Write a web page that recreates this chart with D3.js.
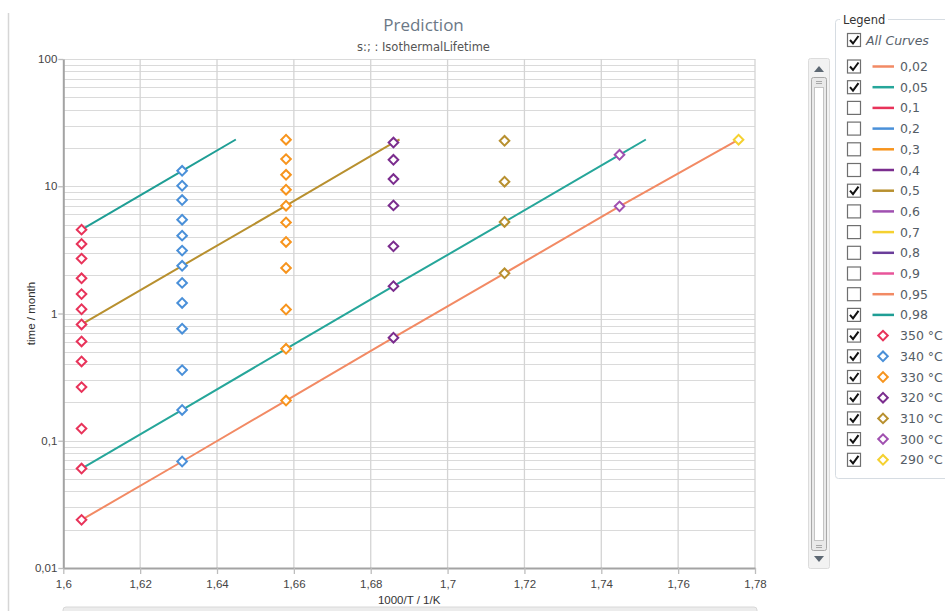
<!DOCTYPE html>
<html>
<head>
<meta charset="utf-8">
<script src="https://cdn.jsdelivr.net/npm/d3@7"></script>
<style>
  html, body { margin: 0; padding: 0; background: #ffffff; }
  svg { display: block; }
</style>
</head>
<body>
<svg id="chart" width="945" height="611"></svg>
<script>
// ---- data ----
const temperatures = [350, 340, 330, 320, 310, 300, 290];          // °C
const quantileLabels = ["0,02", "0,05", "0,1", "0,2", "0,3", "0,4", "0,5",
                        "0,6", "0,7", "0,8", "0,9", "0,95", "0,98"];
const quantileVisible = [true, true, false, false, false, false, true,
                         false, false, false, false, false, true];

// lifetime quantiles (months) per test temperature, in quantile order
const times350 = [0.0239, 0.0605, 0.1246, 0.264, 0.420, 0.603, 0.82, 1.08, 1.42, 1.89, 2.70, 3.52, 4.56];
const times340 = [0.0687, 0.1745, 0.359, 0.759, 1.21, 1.74, 2.37, 3.12, 4.09, 5.46, 7.79, 10.09, 13.23];
const times330 = [0.207, 0.528, 1.075, 2.28, 3.65, 5.20, 7.03, 9.39, 12.31, 16.34, 23.2];
const times320 = [0.645, 1.64, 3.37, 7.07, 11.39, 16.14, 22.05];
const times310 = [2.07, 5.24, 10.85, 22.75];
const times300 = [6.95, 17.66];
const times290 = [23.2];
const timesByTemp = [times350, times340, times330, times320, times310, times300, times290];

// prediction curves: 1000/T end where the curve reaches the time limit
const maxTime = 23.3;
const curve002End = 1.7757;
const curve005End = 1.7516;
const curve05End = 1.6875;
const curve098End = 1.6449;

const xTicks = [1.6, 1.62, 1.64, 1.66, 1.68, 1.7, 1.72, 1.74, 1.76, 1.78];
const yTicks = [0.01, 0.1, 1, 10, 100];
const yTickLabels = ["0,01", "0,1", "1", "10", "100"];

// ---- colours ----
const curveColors = ["#F28A64", "#26A69A", "#E8335A", "#4A90D9", "#F7941D", "#7B2D8E", "#B8902F",
                     "#A050B0", "#F5D130", "#6A3D9A", "#E8559A", "#F28A64", "#1F9E95"];
const tempColors = ["#E8335A", "#4A90D9", "#F7941D", "#7B2D8E", "#B8902F", "#A050B0", "#F5D130"];

const invT = t => 1000 / (t + 273.15);
const fmt = v => String(v).replace(".", ",");

const svg = d3.select("#chart");

const x = d3.scaleLinear().domain([1.6, 1.78]).range([63.3, 755]);
const y = d3.scaleLog().domain([0.01, 100]).range([568, 59]);

// window frame pieces
svg.append("line").attr("x1", 8.5).attr("x2", 8.5).attr("y1", 13).attr("y2", 611)
  .attr("stroke", "#d6d6d6").attr("stroke-width", 1.5);
svg.append("rect").attr("x", 63).attr("y", 607).attr("width", 694).attr("height", 10)
  .attr("rx", 3).attr("fill", "#ececec").attr("stroke", "#d8d8d8");

// title
svg.append("text").attr("x", 423.5).attr("y", 31).attr("text-anchor", "middle")
  .attr("font-family", "'Open Sans', sans-serif").attr("font-size", 17)
  .attr("fill", "#6b7886").text("Prediction");
svg.append("text").attr("x", 423.5).attr("y", 51).attr("text-anchor", "middle")
  .attr("font-family", "'DejaVu Sans', sans-serif").attr("font-size", 11.5)
  .attr("fill", "#555").text("s:; : IsothermalLifetime");

// grid
const grid = svg.append("g");
const minorVals = [];
for (let e = -2; e < 2; e++) for (let m = 1; m <= 9; m++) minorVals.push(m * Math.pow(10, e));
minorVals.push(100);
grid.selectAll("line.h").data(minorVals).join("line")
  .attr("x1", x(1.6)).attr("x2", x(1.78))
  .attr("y1", d => Math.round(y(d)) + 0.5).attr("y2", d => Math.round(y(d)) + 0.5)
  .attr("stroke", "#dadada").attr("stroke-width", 1.2);
grid.selectAll("line.v").data(xTicks.slice(1)).join("line")
  .attr("x1", d => x(d)).attr("x2", d => x(d))
  .attr("y1", y(100)).attr("y2", y(0.01))
  .attr("stroke", "#d4d4d4").attr("stroke-width", 1.3);

// axes
const xAxis = d3.axisBottom(x).tickValues(xTicks).tickSize(6).tickSizeOuter(0)
  .tickFormat(d => fmt(+d.toFixed(2)));
const gx = svg.append("g").attr("transform", `translate(0,${y(0.01)})`).call(xAxis);
gx.select(".domain").attr("stroke", "#a3a3a3").attr("stroke-width", 2);
gx.selectAll(".tick line").attr("stroke", "#bdbdbd").attr("stroke-width", 1.3);
gx.selectAll(".tick text").attr("font-family", "'Liberation Sans', Arial, sans-serif")
  .attr("font-size", 11.5).attr("fill", "#444").attr("dy", "0.95em");

const yAxis = d3.axisLeft(y).tickValues(yTicks).tickSize(5).tickSizeOuter(0)
  .tickFormat((d, i) => yTickLabels[i]);
const gy = svg.append("g").attr("transform", `translate(${x(1.6)},0)`).call(yAxis);
gy.select(".domain").attr("stroke", "#a3a3a3").attr("stroke-width", 2);
gy.selectAll(".tick line").attr("stroke", "#bdbdbd").attr("stroke-width", 1.3);
gy.selectAll(".tick text").attr("font-family", "'Liberation Sans', Arial, sans-serif")
  .attr("font-size", 11.5).attr("fill", "#444").attr("x", -6);

svg.append("text").attr("x", x(1.69)).attr("y", 604).attr("text-anchor", "middle")
  .attr("font-family", "'Liberation Sans', Arial, sans-serif").attr("font-size", 11.5)
  .attr("fill", "#333").text("1000/T / 1/K");
svg.append("text").attr("transform", `translate(35,${y(1)}) rotate(-90)`)
  .attr("text-anchor", "middle")
  .attr("font-family", "'Liberation Sans', Arial, sans-serif").attr("font-size", 11.5)
  .attr("fill", "#333").text("time / month");

// prediction curves built from quantile columns
function curvePoints(qi, endX) {
  const pts = [];
  temperatures.forEach((t, ti) => {
    const col = timesByTemp[ti];
    if (qi < col.length && invT(t) <= endX + 1e-6) pts.push([invT(t), col[qi]]);
  });
  if (pts[pts.length - 1][0] < endX - 1e-6) pts.push([endX, maxTime]);
  return pts;
}
const curves = [
  { qi: 0, end: curve002End },
  { qi: 1, end: curve005End },
  { qi: 6, end: curve05End },
  { qi: 12, end: curve098End }
];
const line = d3.line().x(d => x(d[0])).y(d => y(d[1]));
svg.append("g").selectAll("path").data(curves).join("path")
  .attr("d", c => line(curvePoints(c.qi, c.end)))
  .attr("fill", "none").attr("stroke", c => curveColors[c.qi]).attr("stroke-width", 2);

// measured quantile markers
const diamond = d3.symbol().type(d3.symbolSquare).size(46);
const pointData = [];
temperatures.forEach((t, ti) => timesByTemp[ti].forEach(v => pointData.push({ t, ti, v })));
svg.append("g").selectAll("path").data(pointData).join("path")
  .attr("d", diamond)
  .attr("transform", d => `translate(${x(invT(d.t))},${y(d.v)}) rotate(45)`)
  .attr("fill", "#fff").attr("stroke", d => tempColors[d.ti]).attr("stroke-width", 2);

// scroll bar beside the legend
const sb = svg.append("g");
sb.append("rect").attr("x", 808.5).attr("y", 58.5).attr("width", 21).attr("height", 510)
  .attr("rx", 2).attr("fill", "#f2f2f2").attr("stroke", "#dcdcdc");
sb.append("path").attr("d", "M814,72 L824,72 L819,66 Z").attr("fill", "#5d6873");
sb.append("path").attr("d", "M814,556 L824,556 L819,562 Z").attr("fill", "#5d6873");
sb.append("rect").attr("x", 811.5).attr("y", 77.5).attr("width", 15).attr("height", 473)
  .attr("rx", 2).attr("fill", "#e9e9e9").attr("stroke", "#a9a9a9");
sb.append("rect").attr("x", 814.5).attr("y", 87.5).attr("width", 9).attr("height", 453)
  .attr("fill", "#ffffff").attr("stroke", "#c4c4c4");
[81, 83, 545, 547].forEach(gy0 => sb.append("line")
  .attr("x1", 816).attr("x2", 822).attr("y1", gy0 + 0.5).attr("y2", gy0 + 0.5)
  .attr("stroke", "#a8a8a8"));

// legend
const lg = svg.append("g");
lg.append("rect").attr("x", 835.5).attr("y", 19.5).attr("width", 130).attr("height", 459)
  .attr("rx", 3).attr("fill", "none").attr("stroke", "#d6dce2");
lg.append("rect").attr("x", 840).attr("y", 12).attr("width", 48).attr("height", 14).attr("fill", "#fff");
lg.append("text").attr("x", 843).attr("y", 23.5)
  .attr("font-family", "'DejaVu Sans', sans-serif").attr("font-size", 11.5)
  .attr("fill", "#333").text("Legend");

function checkbox(yc, checked) {
  lg.append("rect").attr("x", 847.5).attr("y", yc - 6.5).attr("width", 13).attr("height", 13)
    .attr("fill", "#fff").attr("stroke", "#6f6f6f").attr("stroke-width", 1.2);
  if (checked) lg.append("path")
    .attr("d", `M850,${yc} L853,${yc + 3.5} L858.5,${yc - 4}`)
    .attr("fill", "none").attr("stroke", "#111").attr("stroke-width", 2);
}
checkbox(40, true);
lg.append("text").attr("x", 866).attr("y", 44.5)
  .attr("font-family", "'DejaVu Sans', sans-serif").attr("font-size", 12.5)
  .attr("font-style", "italic").attr("fill", "#56606a").text("All Curves");

const rowY = i => 66.5 + i * 20.7;
quantileLabels.forEach((lab, i) => {
  const yc = rowY(i);
  checkbox(yc, quantileVisible[i]);
  lg.append("line").attr("x1", 872.5).attr("x2", 894).attr("y1", yc).attr("y2", yc)
    .attr("stroke", curveColors[i]).attr("stroke-width", 2.5);
  lg.append("text").attr("x", 900).attr("y", yc + 4.5)
    .attr("font-family", "'DejaVu Sans', sans-serif").attr("font-size", 12.5)
    .attr("fill", "#555d66").text(lab);
});
temperatures.forEach((t, i) => {
  const yc = rowY(quantileLabels.length + i);
  checkbox(yc, true);
  lg.append("path").attr("d", diamond)
    .attr("transform", `translate(883,${yc}) rotate(45)`)
    .attr("fill", "#fff").attr("stroke", tempColors[i]).attr("stroke-width", 2);
  lg.append("text").attr("x", 900).attr("y", yc + 4.5)
    .attr("font-family", "'DejaVu Sans', sans-serif").attr("font-size", 12.5)
    .attr("fill", "#555d66").text(`${t} °C`);
});
</script>
</body>
</html>
